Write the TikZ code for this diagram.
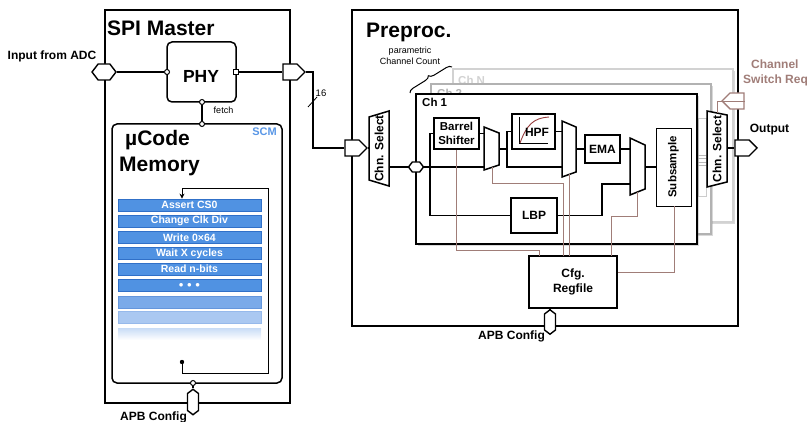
\documentclass[tikz,border=0pt]{standalone}
\usepackage{fontspec}
\setmainfont{Liberation Sans}
\usetikzlibrary{arrows.meta,shapes.symbols,shapes.geometric,shadows,decorations.pathreplacing,calc}
\definecolor{cfgc}{RGB}{160,125,120}
\definecolor{scmblue}{RGB}{88,150,230}
\definecolor{rowblue}{RGB}{80,146,226}
\definecolor{rowedge}{RGB}{48,112,200}
\definecolor{hpfred}{RGB}{150,60,60}
\newcommand\fsz[2]{\fontsize{#1}{#2}\selectfont}
\begin{document}
\begin{tikzpicture}[x=1pt,y=-1pt,
  bigbox/.style={draw, line width=2.2pt, inner sep=0pt},
  blk/.style={draw, line width=1.6pt, fill=white, inner sep=0pt, font=\bfseries\fsz{12}{14}, align=center},
  port/.style={draw, line width=1.4pt, fill=white, shape=signal, inner sep=0pt, signal to=east, minimum width=22pt, minimum height=16pt},
  hexport/.style={draw, line width=1.4pt, fill=white, shape=signal, inner sep=0pt, signal to=east and west, signal pointer angle=105},
  pin/.style={circle, draw, line width=1pt, fill=white, inner sep=0pt, minimum size=5pt},
  wire/.style={line width=1.3pt},
  cfgw/.style={draw=cfgc, line width=0.9pt},
  mux/.style={draw, line width=1.5pt, fill=white, line join=miter},
  row/.style={draw=rowedge, line width=0.8pt, fill=rowblue, minimum width=143pt, minimum height=12pt, inner sep=0pt, text=white, font=\bfseries\fsz{10.5}{12}},
  lbl/.style={font=\bfseries\fsz{12}{14}, inner sep=0pt},
  chbox/.style={draw, fill=white, inner sep=0pt, drop shadow={shadow xshift=2pt, shadow yshift=-2pt, opacity=0.3}},
]
\useasboundingbox (0,0) rectangle (811,422);

% ================= SPI Master =================
\node[bigbox, minimum width=185pt, minimum height=393pt] (spi) at (197.5,206.5) {};
\node[anchor=base west, inner sep=0pt, font=\bfseries\fsz{21}{24}] (spit) at (107,36) {SPI Master};
\node[lbl, anchor=base] (adct) at (52,60) {Input from ADC};

\node[draw, line width=1.5pt, rounded corners=5pt, minimum width=69pt, minimum height=60pt, inner sep=0pt] (phy) at (201.5,72) {};
\node[anchor=base, inner sep=0pt, font=\bfseries\fsz{17.5}{20}] (phyt) at (201,83) {PHY};

\node[draw, line width=1.5pt, rounded corners=5pt, minimum width=170pt, minimum height=259pt, inner sep=0pt] (ucode) at (197,253.5) {};
\node[anchor=base west, inner sep=0pt, font=\bfseries\fsz{21}{24}] (uct1) at (125,146) {µCode};
\node[anchor=base west, inner sep=0pt, font=\bfseries\fsz{21}{24}] (uct2) at (119,172) {Memory};
\node[anchor=base, inner sep=0pt, text=scmblue, font=\bfseries\fsz{11}{13}] (scm) at (264.5,136) {SCM};
\node[anchor=base, inner sep=0pt, font=\fsz{9}{11}] (fetch) at (223.5,114) {fetch};

% list rows
\node[row] (r1) at (189.5,205) {Assert CS0};
\node[row] (r2) at (189.5,221) {Change Clk Div};
\node[row] (r3) at (189.5,237.5) {Write 0×64};
\node[row] (r4) at (189.5,253.5) {Wait X cycles};
\node[row] (r5) at (189.5,269) {Read n-bits};
\node[row] (r6) at (189.5,285) {\fsz{9}{10}$\bullet\,\bullet\,\bullet$};
\node[row, fill={rgb,255:red,122;green,170;blue,233}, draw={rgb,255:red,100;green,150;blue,220}] (r7) at (189.5,302) {};
\node[row, fill={rgb,255:red,170;green,200;blue,241}, draw={rgb,255:red,150;green,185;blue,235}] (r8) at (189.5,317.5) {};
\node[row, draw=none, top color={rgb,255:red,200;green,220;blue,246}, bottom color=white] (r9) at (189.5,334) {};

% loop
\coordinate (lpdot) at (182,362);
\fill (lpdot) circle (2.2pt);
\draw[line width=1pt, -{Stealth[length=5pt,width=5pt]}] (lpdot) -- (182,373) -- (268,373) -- (268,188.5) -- (182,188.5) -- (r1.north -| 182,0);

% pins
\node[pin] (phyL) at (167,72) {};
\node[draw, line width=1pt, fill=white, inner sep=0pt, minimum size=4.5pt] (phyR) at (236,72) {};
\node[pin] (phyB) at (202,102) {};
\node[pin] (ucT) at (202,124) {};
\node[pin] (ucB) at (193,383) {};

% ports SPI
\node[hexport, minimum width=24pt, minimum height=16pt] (inport) at (104,72) {};
\node[port] (spiout) at (290,72) {};
\node[hexport, signal to=north and south, minimum width=11pt, minimum height=17pt] (apb1) at (193,402) {};
\node[lbl, anchor=base west] (apb1t) at (120,420) {APB Config};

\draw[wire] (inport.east) -- (phyL.west);
\draw[wire] (phyR.east) -- (spiout.west);
\draw[wire] (phyB.south) -- (ucT.north);
\draw[wire] (ucB.south) -- (apb1.north);

% ================= Preproc =================
\node[bigbox, minimum width=386pt, minimum height=316pt] (pre) at (545,168) {};
\node[anchor=base west, inner sep=0pt, font=\bfseries\fsz{21}{24}] (pret) at (366,38) {Preproc.};
\node[anchor=base, inner sep=0pt, font=\fsz{9}{11}] (par1) at (410,54) {parametric};
\node[anchor=base, inner sep=0pt, font=\fsz{9}{11}] (par2) at (410,65) {Channel Count};

% channel stack
\node[chbox, draw=gray!35, line width=1.5pt, minimum width=280pt, minimum height=153pt] (chN) at (593,145.5) {};
\node[anchor=base west, inner sep=0pt, text=gray!35, font=\bfseries\fsz{11.5}{13}] (chNt) at (458,85) {Ch N};
\node[chbox, draw=gray!60, line width=1.5pt, minimum width=280pt, minimum height=150pt] (ch2) at (571,159) {};
\node[anchor=base west, inner sep=0pt, text=gray!60, font=\bfseries\fsz{11.5}{13}] (ch2t) at (437,97.5) {Ch 2};
% gray bits between channels and output select
\draw[gray!40, line width=0.6pt] (698,118) rectangle (706,196);
\foreach \yy in {155,158.5,162,165.5} \draw[gray!55, line width=0.6pt] (697,\yy) -- (708,\yy);
\node[chbox, draw=black, line width=1.8pt, minimum width=281pt, minimum height=150pt] (ch1) at (556.5,169) {};
\node[anchor=base west, inner sep=0pt, font=\bfseries\fsz{11.5}{13}] (ch1t) at (422,107) {Ch 1};

\draw[line width=1pt, decorate, decoration={brace, amplitude=5pt}] (410,93) -- (452,67);

% blocks in Ch 1
\node[blk, minimum width=45pt, minimum height=31pt, font=\bfseries\fsz{11.5}{14.5}] (barrel) at (456.5,133.5) {Barrel\\Shifter};
\node[blk, minimum width=43pt, minimum height=35pt] (hpf) at (533.5,131.5) {};
\draw[line width=0.8pt] (519,117) -- (519,143) -- (548,143);
\draw[hpfred, line width=0.9pt] (520,143) .. controls (527,124) and (534,118) .. (549,117);
\node[anchor=center, inner sep=0pt, font=\bfseries\fsz{12}{14}] (hpft) at (537,132) {HPF};
\node[blk, minimum width=35pt, minimum height=28pt] (ema) at (602.5,149) {EMA};
\node[blk, minimum width=46pt, minimum height=35pt] (lbp) at (534,215.5) {LBP};
\node[draw, line width=0.9pt, fill=white, minimum width=35pt, minimum height=78pt, inner sep=0pt] (sub) at (673.5,167) {};
\node[rotate=90, inner sep=0pt, font=\bfseries\fsz{11.5}{13}] (subt) at (673.5,167) {Subsample};
\node[blk, minimum width=88pt, minimum height=52pt, font=\bfseries\fsz{12}{15}] (cfg) at (573,282) {Cfg.\\Regfile};

% muxes
\draw[mux] (484,127) -- (499,133) -- (499,165) -- (484,170) -- cycle;
\coordinate (m1a) at (484,133.5); \coordinate (m1b) at (484,167);
\coordinate (m1o) at (499,149); \coordinate (m1s) at (492,167.3);
\draw[mux] (562,121) -- (576,127) -- (576,172) -- (562,177) -- cycle;
\coordinate (m2a) at (562,131.5); \coordinate (m2b) at (562,167);
\coordinate (m2o) at (576,149); \coordinate (m2s) at (569,174.5);
\draw[mux] (630,138) -- (645,145) -- (645,189) -- (630,195) -- cycle;
\coordinate (m3a) at (630,149); \coordinate (m3b) at (630,184);
\coordinate (m3o) at (645,167); \coordinate (m3s) at (637,192.2);
\draw[mux] (369,117) -- (389,111) -- (389,186) -- (369,180) -- cycle;
\node[rotate=90, inner sep=0pt, font=\bfseries\fsz{12}{14}] (lselt) at (379,148.5) {Chn. Select};
\coordinate (li) at (369,148); \coordinate (lo) at (389,167);
\draw[mux] (707,111) -- (727,115) -- (727,182) -- (707,187) -- cycle;
\node[rotate=90, inner sep=0pt, font=\bfseries\fsz{12}{14}] (rselt) at (717,149) {Chn. Select};
\coordinate (ro) at (727,148); \coordinate (rt) at (717,113);

% ports of Preproc
\node[port] (prein) at (352,148) {};
\node[hexport, minimum width=15pt, minimum height=10pt] (ch1in) at (416,167) {};
\node[port] (outport) at (742,148) {};
\node[port, draw=cfgc, signal to=west] (csw) at (737,101) {};
\node[hexport, signal to=north and south, minimum width=11pt, minimum height=16pt] (apb2) at (550,322) {};
\node[lbl, anchor=base west] (apb2t) at (478,339) {APB Config};
\node[lbl, anchor=base] (outt) at (769.5,133) {Output};
\node[anchor=base west, inner sep=0pt, text=cfgc, font=\bfseries\fsz{12}{14}] (cswt1) at (751,69) {Channel};
\node[anchor=base west, inner sep=0pt, text=cfgc, font=\bfseries\fsz{12}{14}] (cswt2) at (743,84) {Switch Req};

% SPI -> Preproc
\coordinate (bend) at (313,72);
\draw[wire] (spiout.east) -- (bend) |- (prein.west);
\draw[line width=0.8pt] (308,107) -- (317,97);
\node[anchor=center, inner sep=0pt, font=\fsz{9.5}{11}] (bw) at (321,93) {16};

% datapath wires
\draw[wire] (prein.east) -- (li);
\draw[wire] (lo) -- (ch1in.west);
\coordinate (bus) at (430,167);
\draw[wire] (ch1in.east) -- (m1b);
\draw[wire] (barrel.west -| bus) -- (bus) |- (lbp.west);
\draw[wire] (barrel.west -| bus) -- (barrel.west);
\draw[wire] (barrel.east) -- (m1a);
\coordinate (sp1) at (507,149);
\draw[wire] (m1o) -- (sp1);
\draw[wire] (hpf.west) -| (sp1) |- (m2b);
\draw[wire] (hpf.east) -- (m2a);
\draw[wire] (m2o) -- (ema.west);
\draw[wire] (ema.east) -- (m3a);
\coordinate (lb1) at (602,215.5);
\draw[wire] (lbp.east) -- (lb1) |- (m3b);
\draw[wire] (m3o) -- (sub.west);
\draw[wire] (ro) -- (outport.west);
\draw[wire] (cfg.south -| apb2) -- (apb2.north);

% config wires
\draw[cfgw] (csw.east) -| (rt);
\draw[cfgw] (barrel.south) |- (539,250) -- (539,256);
\draw[cfgw] (m1s) |- (563,183) -- (563,256);
\draw[cfgw] (m2s) -- (569,256);
\draw[cfgw] (m3s) |- (611,216) -- (611,256);
\draw[cfgw] (sub.south -| 674,0) |- (cfg.east |- 0,272);
\end{tikzpicture}
\end{document}
